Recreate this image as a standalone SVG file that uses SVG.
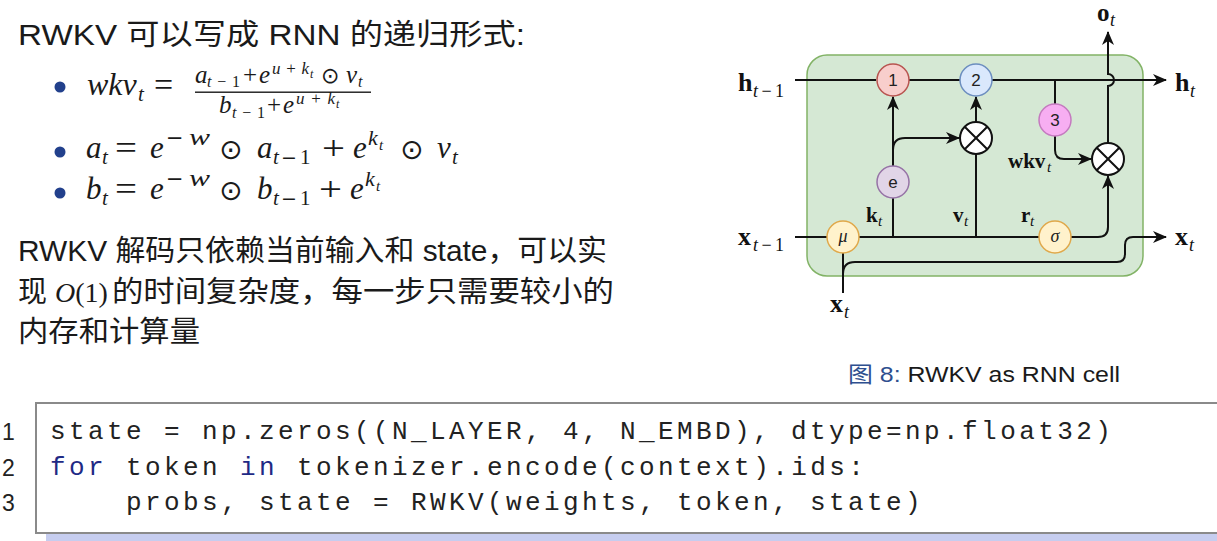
<svg xmlns="http://www.w3.org/2000/svg" width="1217" height="541" viewBox="0 0 1217 541">
<style>
.sans{font-family:"Liberation Sans","Noto Sans CJK SC",sans-serif;fill:#1a1a1a}
.cjk{font-family:"Liberation Sans","Noto Sans CJK SC",sans-serif;fill:#1a1a1a;font-size:29px}
.mi{font-family:"Liberation Serif",serif;font-style:italic;fill:#1a1a1a}
.mr{font-family:"Liberation Serif",serif;font-style:normal;fill:#1a1a1a}
.op{font-family:"DejaVu Sans",sans-serif;font-style:normal;fill:#1a1a1a}
.bul{fill:#22408c}
.bd{font-family:"Liberation Serif",serif;font-weight:bold;fill:#111}
.sb{font-family:"Liberation Serif",serif;font-style:italic;fill:#111}
.up{font-style:normal}
.code{font-family:"Liberation Mono",monospace;font-size:26px;letter-spacing:3.4px;fill:#222}
.kw{fill:#1f2a85}
.ln{font-family:"Liberation Sans",sans-serif;font-size:23px;fill:#222}
.wire{fill:none;stroke:#111;stroke-width:2}
.ct{font-family:"Liberation Sans",sans-serif;font-size:17px;fill:#222;text-anchor:middle}
.cg{font-family:"Liberation Serif",serif;font-style:italic;font-size:18px;fill:#222;text-anchor:middle}
</style>
<defs>
<marker id="ar" viewBox="0 0 14 12" refX="13" refY="6" markerWidth="14" markerHeight="12" orient="auto" markerUnits="userSpaceOnUse">
<path d="M0,0 L14,6 L0,12 L4,6 z" fill="#111"/>
</marker>
</defs>
<rect width="1217" height="541" fill="#ffffff"/>

<g id="title">
<text class="cjk" x="18" y="45" textLength="507" lengthAdjust="spacingAndGlyphs">RWKV 可以写成 RNN 的递归形式:</text>
</g>

<g id="formula1">
<circle class="bul" cx="60" cy="87" r="5.5"/>
<text class="mi" x="87" y="95" font-size="32">wkv</text>
<text class="mi" x="138" y="101" font-size="21">t</text>
<text class="mr" x="154" y="96" font-size="34">=</text>
<text class="mi" x="195" y="83" font-size="25">a</text>
<text class="mi" x="207" y="87" font-size="16" textLength="33">t<tspan class="up">−1</tspan></text>
<text class="mr" x="243" y="83" font-size="25">+</text>
<text class="mi" x="259" y="83" font-size="25">e</text>
<text class="mi" x="272" y="74" font-size="17" textLength="37">u<tspan class="up">+</tspan>k</text>
<text class="mi" x="310" y="78" font-size="12">t</text>
<text class="op" x="321" y="83" font-size="22">⊙</text>
<text class="mi" x="346" y="83" font-size="25">v</text>
<text class="mi" x="358" y="87" font-size="16">t</text>
<rect x="195" y="91.5" width="176" height="1.4" fill="#1a1a1a"/>
<text class="mi" x="219" y="113" font-size="25">b</text>
<text class="mi" x="232" y="118" font-size="16" textLength="33">t<tspan class="up">−1</tspan></text>
<text class="mr" x="267" y="113" font-size="25">+</text>
<text class="mi" x="283" y="113" font-size="25">e</text>
<text class="mi" x="296" y="104" font-size="17" textLength="39">u<tspan class="up">+</tspan>k</text>
<text class="mi" x="336" y="108" font-size="12">t</text>
</g>

<g id="formula2">
<circle class="bul" cx="60" cy="152" r="5.5"/>
<text class="mi" x="86" y="158" font-size="31">a</text>
<text class="mi" x="102" y="164" font-size="21">t</text>
<text class="mr" x="115" y="159" font-size="34" textLength="22" lengthAdjust="spacingAndGlyphs">=</text>
<text class="mi" x="150" y="158" font-size="31">e</text>
<text class="op" x="166" y="145" font-size="21">−</text>
<text class="mi" x="189" y="145" font-size="23" textLength="21" lengthAdjust="spacingAndGlyphs">w</text>
<text class="op" x="219" y="159" font-size="28">⊙</text>
<text class="mi" x="257" y="158" font-size="31">a</text>
<text class="mi" x="273" y="164" font-size="21">t</text>
<text class="op" x="281" y="164" font-size="19">−</text>
<text class="mr" x="300" y="164" font-size="21">1</text>
<text class="mr" x="322" y="159" font-size="33" textLength="23" lengthAdjust="spacingAndGlyphs">+</text>
<text class="mi" x="353" y="158" font-size="31">e</text>
<text class="mi" x="368" y="145" font-size="22">k</text>
<text class="mi" x="379" y="150" font-size="15">t</text>
<text class="op" x="400" y="159" font-size="28">⊙</text>
<text class="mi" x="437" y="158" font-size="31">v</text>
<text class="mi" x="452" y="164" font-size="21">t</text>
</g>

<g id="formula3">
<circle class="bul" cx="60" cy="193" r="5.5"/>
<text class="mi" x="86" y="199" font-size="31">b</text>
<text class="mi" x="102" y="205" font-size="21">t</text>
<text class="mr" x="115" y="200" font-size="34" textLength="22" lengthAdjust="spacingAndGlyphs">=</text>
<text class="mi" x="150" y="199" font-size="31">e</text>
<text class="op" x="166" y="186" font-size="21">−</text>
<text class="mi" x="189" y="186" font-size="23" textLength="21" lengthAdjust="spacingAndGlyphs">w</text>
<text class="op" x="219" y="200" font-size="28">⊙</text>
<text class="mi" x="257" y="199" font-size="31">b</text>
<text class="mi" x="273" y="205" font-size="21">t</text>
<text class="op" x="281" y="205" font-size="19">−</text>
<text class="mr" x="300" y="205" font-size="21">1</text>
<text class="mr" x="319" y="200" font-size="33" textLength="23" lengthAdjust="spacingAndGlyphs">+</text>
<text class="mi" x="350" y="199" font-size="31">e</text>
<text class="mi" x="365" y="186" font-size="22">k</text>
<text class="mi" x="376" y="191" font-size="15">t</text>
</g>

<g id="paragraph">
<text class="cjk" x="18" y="261" textLength="589" lengthAdjust="spacingAndGlyphs">RWKV 解码只依赖当前输入和 state，可以实</text>
<text class="cjk" x="18" y="302">现</text>
<text class="mi" x="55" y="302" font-size="28">O<tspan class="up">(1)</tspan></text>
<text class="cjk" x="112" y="302" textLength="502" lengthAdjust="spacingAndGlyphs">的时间复杂度，每一步只需要较小的</text>
<text class="cjk" x="18" y="342" textLength="182" lengthAdjust="spacingAndGlyphs">内存和计算量</text>
</g>

<g id="cell-box">
<rect x="807" y="55" width="336" height="221" rx="20" fill="#d5e8d4" stroke="#82b366" stroke-width="1.5"/>
</g>

<g id="connectors">
<path class="wire" d="M795,80 H876"/>
<path class="wire" d="M909,80 H960"/>
<path class="wire" d="M992,80 H1166" marker-end="url(#ar)"/>
<path class="wire" d="M1055,80 V104"/>
<path class="wire" d="M1055,136 V150 Q1055,159 1064,159 H1091" marker-end="url(#ar)"/>
<path class="wire" d="M1108,143 V86 A6,6 0 0 0 1108,74 V32" marker-end="url(#ar)"/>
<path class="wire" d="M893,166 V97" marker-end="url(#ar)"/>
<path class="wire" d="M893,150 Q893,138 905,138 H959" marker-end="url(#ar)"/>
<path class="wire" d="M893,237 V198"/>
<path class="wire" d="M976,237 V154"/>
<path class="wire" d="M976,122 V97" marker-end="url(#ar)"/>
<path class="wire" d="M795,237 H827"/>
<path class="wire" d="M859,237 H1039"/>
<path class="wire" d="M1071,237 H1098 Q1108,237 1108,227 V176" marker-end="url(#ar)"/>
<path class="wire" d="M843,293 V253"/>
<path class="wire" d="M843,274 Q843,262 855,262 H1117 Q1125,262 1125,254 V245 Q1125,237 1133,237 H1166" marker-end="url(#ar)"/>
</g>

<g id="node-1">
<circle cx="893" cy="80" r="16" fill="#f8cecc" stroke="#b85450" stroke-width="1.5"/>
<text class="ct" x="893" y="86">1</text>
</g>
<g id="node-2">
<circle cx="976" cy="80" r="16" fill="#dae8fc" stroke="#6c8ebf" stroke-width="1.5"/>
<text class="ct" x="976" y="86">2</text>
</g>
<g id="node-3">
<circle cx="1055" cy="120" r="16" fill="#f7aef2" stroke="#c47abf" stroke-width="1.5"/>
<text class="ct" x="1055" y="126">3</text>
</g>
<g id="node-mul1">
<circle cx="976" cy="138" r="16" fill="#ffffff" stroke="#111" stroke-width="2"/>
<path d="M964.7,126.7 L987.3,149.3 M987.3,126.7 L964.7,149.3" stroke="#111" stroke-width="2"/>
</g>
<g id="node-mul2">
<circle cx="1108" cy="159" r="16" fill="#ffffff" stroke="#111" stroke-width="2"/>
<path d="M1096.7,147.7 L1119.3,170.3 M1119.3,147.7 L1096.7,170.3" stroke="#111" stroke-width="2"/>
</g>
<g id="node-e">
<circle cx="893" cy="182" r="16" fill="#e1d5e7" stroke="#9673a6" stroke-width="1.5"/>
<text class="ct" x="893" y="188">e</text>
</g>
<g id="node-mu">
<circle cx="843" cy="237" r="16" fill="#fff2cc" stroke="#e0a84a" stroke-width="1.5"/>
<text class="cg" x="843" y="242">μ</text>
</g>
<g id="node-sigma">
<circle cx="1055" cy="237" r="16" fill="#fff2cc" stroke="#e0a84a" stroke-width="1.5"/>
<text class="cg" x="1055" y="242">σ</text>
</g>

<g id="labels">
<text class="bd" x="738" y="91" font-size="26">h</text><text class="sb" x="753" y="97" font-size="18" textLength="31">t<tspan class="up">−1</tspan></text>
<text class="bd" x="1175" y="91" font-size="26">h</text><text class="sb" x="1190" y="97" font-size="18">t</text>
<text class="bd" x="738" y="245" font-size="26">x</text><text class="sb" x="753" y="251" font-size="18" textLength="31">t<tspan class="up">−1</tspan></text>
<text class="bd" x="1175" y="245" font-size="26">x</text><text class="sb" x="1189" y="251" font-size="18">t</text>
<text class="bd" x="830" y="312" font-size="26">x</text><text class="sb" x="844" y="318" font-size="18">t</text>
<text class="bd" x="1097" y="21" font-size="25">o</text><text class="sb" x="1110" y="26" font-size="18">t</text>
<text class="bd" x="866" y="222" font-size="21">k</text><text class="sb" x="878" y="226" font-size="15">t</text>
<text class="bd" x="953" y="222" font-size="21">v</text><text class="sb" x="964" y="226" font-size="15">t</text>
<text class="bd" x="1021" y="222" font-size="21">r</text><text class="sb" x="1030" y="226" font-size="15">t</text>
<text class="bd" x="1008" y="168" font-size="21">wkv</text><text class="sb" x="1047" y="172" font-size="15">t</text>
</g>

<g id="caption">
<text class="sans" x="848" y="382" font-size="22" textLength="272" lengthAdjust="spacingAndGlyphs"><tspan fill="#2e4f8f">图 8:</tspan> RWKV as RNN cell</text>
</g>

<g id="code">
<rect x="46" y="533" width="1180" height="10" fill="#c6cdef"/>
<rect x="36" y="403" width="1200" height="130" fill="#ffffff" stroke="#8a8a8a" stroke-width="2"/>
<text class="ln" x="2" y="440">1</text>
<text class="ln" x="2" y="476">2</text>
<text class="ln" x="2" y="511">3</text>
<text class="code" x="50" y="439">state = np.zeros((N_LAYER, 4, N_EMBD), dtype=np.float32)</text>
<text class="code" x="50" y="475"><tspan class="kw">for</tspan> token <tspan class="kw">in</tspan> tokenizer.encode(context).ids:</text>
<text class="code" x="50" y="510" xml:space="preserve">    probs, state = RWKV(weights, token, state)</text>
</g>
</svg>
